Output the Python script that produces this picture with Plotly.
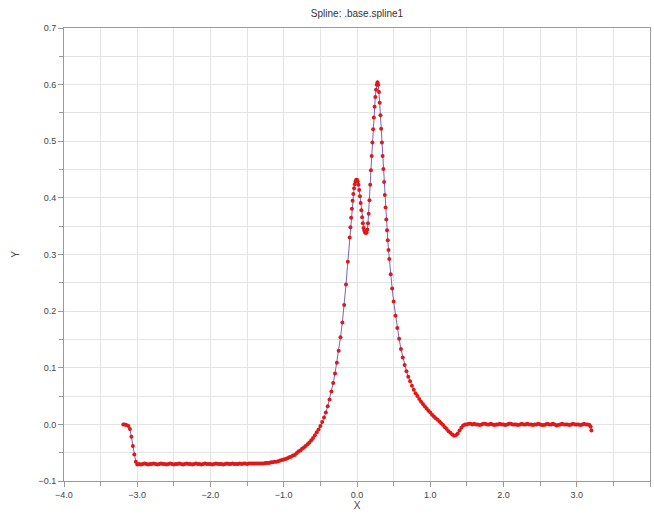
import plotly.graph_objects as go

# Spline samples, split into segments along X
x_start = [-3.19, -3.17, -3.15, -3.12, -3.10, -3.08, -3.06, -3.04, -3.02, -3.00]
y_start = [0.000, 0.000, -0.001, -0.003, -0.008, -0.022, -0.038, -0.053, -0.066, -0.071]

x_base_left = [
    -2.975, -2.950, -2.925, -2.900, -2.875, -2.850, -2.825, -2.800, -2.775, -2.750,
    -2.725, -2.700, -2.675, -2.650, -2.625, -2.600, -2.575, -2.550, -2.525, -2.500,
    -2.475, -2.450, -2.425, -2.400, -2.375, -2.350, -2.325, -2.300, -2.275, -2.250,
    -2.225, -2.200, -2.175, -2.150, -2.125, -2.100, -2.075, -2.050, -2.025, -2.000,
    -1.975, -1.950, -1.925, -1.900, -1.875, -1.850, -1.825, -1.800, -1.775, -1.750,
    -1.725, -1.700, -1.675, -1.650, -1.625, -1.600, -1.575, -1.550, -1.525, -1.500,
    -1.475, -1.450, -1.425, -1.400, -1.375, -1.350, -1.325]
y_base_left = [
    -0.070, -0.071, -0.070, -0.069, -0.070, -0.071, -0.070, -0.070, -0.069, -0.070,
    -0.071, -0.070, -0.069, -0.070, -0.070, -0.071, -0.070, -0.069, -0.070, -0.071,
    -0.070, -0.070, -0.069, -0.070, -0.071, -0.070, -0.069, -0.070, -0.070, -0.071,
    -0.070, -0.069, -0.070, -0.070, -0.071, -0.070, -0.069, -0.070, -0.070, -0.070,
    -0.071, -0.070, -0.069, -0.070, -0.070, -0.070, -0.071, -0.070, -0.069, -0.070,
    -0.070, -0.069, -0.070, -0.070, -0.070, -0.069, -0.070, -0.069, -0.069, -0.070,
    -0.069, -0.069, -0.069, -0.069, -0.069, -0.069, -0.069]

x_rise = [
    -1.300, -1.275, -1.250, -1.225, -1.200, -1.175, -1.150, -1.125, -1.100, -1.075,
    -1.050, -1.025, -1.000, -0.975, -0.950, -0.925, -0.900, -0.875, -0.850, -0.825,
    -0.800, -0.775, -0.750, -0.725, -0.700, -0.675, -0.650, -0.625, -0.600, -0.575,
    -0.550, -0.525, -0.500, -0.475, -0.450, -0.425, -0.400, -0.375, -0.350, -0.325,
    -0.300, -0.275, -0.250, -0.225, -0.200, -0.175, -0.150, -0.125]
y_rise = [
    -0.069, -0.069, -0.068, -0.068, -0.068, -0.067, -0.067, -0.066, -0.066, -0.065,
    -0.064, -0.063, -0.062, -0.061, -0.060, -0.058, -0.057, -0.055, -0.054, -0.051,
    -0.048, -0.046, -0.043, -0.041, -0.038, -0.035, -0.032, -0.028, -0.024, -0.019,
    -0.014, -0.009, -0.003, 0.004, 0.012, 0.021, 0.032, 0.044, 0.058, 0.073,
    0.090, 0.109, 0.130, 0.154, 0.180, 0.211, 0.247, 0.287]

x_peaks = [
    -0.10, -0.09, -0.08, -0.07, -0.06, -0.05, -0.04, -0.03, -0.02, -0.01,
    0.00, 0.01, 0.02, 0.03, 0.04, 0.05, 0.06, 0.07, 0.08, 0.09,
    0.10, 0.11, 0.12, 0.13, 0.14, 0.15, 0.16, 0.17, 0.18, 0.19,
    0.20, 0.21, 0.22, 0.23, 0.24, 0.25, 0.26, 0.27, 0.28, 0.29,
    0.30, 0.31, 0.32, 0.33, 0.34, 0.35, 0.36, 0.37, 0.38, 0.39,
    0.40, 0.41, 0.42, 0.43, 0.44]
y_peaks = [
    0.330, 0.348, 0.365, 0.381, 0.395, 0.407, 0.417, 0.424, 0.429, 0.432,
    0.432, 0.429, 0.423, 0.414, 0.403, 0.391, 0.378, 0.366, 0.355, 0.347,
    0.342, 0.339, 0.338, 0.339, 0.344, 0.355, 0.372, 0.396, 0.423, 0.449,
    0.474, 0.498, 0.521, 0.542, 0.561, 0.578, 0.591, 0.600, 0.604, 0.600,
    0.587, 0.568, 0.546, 0.522, 0.498, 0.474, 0.451, 0.428, 0.405, 0.383,
    0.362, 0.343, 0.325, 0.308, 0.292]

x_fall = [
    0.460, 0.480, 0.500, 0.525, 0.550, 0.575, 0.600, 0.625, 0.650, 0.675,
    0.700, 0.725, 0.750, 0.775, 0.800, 0.825, 0.850, 0.875, 0.900, 0.925,
    0.950, 0.975, 1.000, 1.025, 1.050, 1.075, 1.100, 1.125, 1.150, 1.175,
    1.200, 1.225, 1.250, 1.275, 1.300, 1.325, 1.350, 1.375, 1.400, 1.425,
    1.450, 1.475]
y_fall = [
    0.265, 0.240, 0.217, 0.192, 0.170, 0.151, 0.133, 0.118, 0.105, 0.094,
    0.084, 0.076, 0.068, 0.061, 0.055, 0.050, 0.045, 0.040, 0.036, 0.032,
    0.028, 0.024, 0.021, 0.017, 0.014, 0.011, 0.008, 0.005, 0.002, -0.001,
    -0.005, -0.008, -0.012, -0.015, -0.018, -0.020, -0.019, -0.016, -0.011, -0.006,
    -0.002, 0.000]

x_base_right = [
    1.500, 1.525, 1.550, 1.575, 1.600, 1.625, 1.650, 1.675, 1.700, 1.725,
    1.750, 1.775, 1.800, 1.825, 1.850, 1.875, 1.900, 1.925, 1.950, 1.975,
    2.000, 2.025, 2.050, 2.075, 2.100, 2.125, 2.150, 2.175, 2.200, 2.225,
    2.250, 2.275, 2.300, 2.325, 2.350, 2.375, 2.400, 2.425, 2.450, 2.475,
    2.500, 2.525, 2.550, 2.575, 2.600, 2.625, 2.650, 2.675, 2.700, 2.725,
    2.750, 2.775, 2.800, 2.825, 2.850, 2.875, 2.900, 2.925, 2.950, 2.975,
    3.000, 3.025, 3.050, 3.075, 3.100, 3.125, 3.150, 3.175, 3.190, 3.200]
y_base_right = [
    0.000, 0.001, 0.001, 0.000, 0.001, 0.000, 0.000, -0.001, 0.000, 0.001,
    0.001, 0.000, 0.000, 0.001, 0.000, -0.001, 0.000, 0.000, 0.001, 0.000,
    0.000, -0.001, 0.000, 0.001, 0.001, 0.000, 0.000, 0.000, -0.001, 0.000,
    0.001, 0.000, 0.000, 0.001, 0.000, 0.000, -0.001, 0.000, 0.000, 0.001,
    0.000, -0.001, -0.001, 0.000, 0.001, 0.000, 0.000, 0.001, 0.000, -0.002,
    -0.001, 0.000, 0.001, 0.000, 0.000, 0.000, -0.001, 0.000, 0.001, 0.000,
    0.000, 0.000, -0.001, 0.000, 0.001, 0.000, 0.000, -0.001, -0.004, -0.011]

x_all = x_start + x_base_left + x_rise + x_peaks + x_fall + x_base_right
y_all = y_start + y_base_left + y_rise + y_peaks + y_fall + y_base_right
assert len(x_all) == len(y_all)

title_text = "Spline: .base.spline1"

grid_col = "#e4e4e4"
axis_col = "#9a9a9a"
font_col = "#444444"
font_family = "Liberation Sans, Arial, sans-serif"

fig = go.Figure()
fig.add_trace(go.Scatter(
    x=x_all, y=y_all, mode="lines+markers",
    line=dict(color="#7b62c4", width=1),
    marker=dict(color="#e01818", size=4, line=dict(width=0)),
    showlegend=False,
))

axis_common = dict(
    showline=True, linecolor=axis_col, linewidth=1, mirror=True,
    showgrid=True, gridcolor=grid_col, gridwidth=1,
    ticks="outside", ticklen=5, tickcolor=axis_col,
    zeroline=False, tickformat=".1f",
    tickfont=dict(family=font_family, size=9, color=font_col),
    title_font=dict(family=font_family, size=10, color=font_col),
)

fig.update_xaxes(
    range=[-4, 4], dtick=1, tick0=0,
    minor=dict(dtick=0.5, showgrid=True, gridcolor=grid_col, ticks="outside",
               ticklen=4, tickcolor=axis_col),
    title=dict(text="X", standoff=2),
    **axis_common,
)
fig.update_yaxes(
    range=[-0.1, 0.7], dtick=0.1, tick0=0,
    minor=dict(dtick=0.05, showgrid=True, gridcolor=grid_col, ticks="outside",
               ticklen=4, tickcolor=axis_col),
    title=dict(text="Y", standoff=16),
    **axis_common,
)

fig.update_layout(
    width=654, height=514,
    margin=dict(l=64, r=4, t=28, b=33),
    paper_bgcolor="white", plot_bgcolor="white",
    title=dict(text=title_text, x=0.5, xref="paper", y=1 - 13 / 514,
               yref="container", yanchor="middle", xanchor="center",
               font=dict(family=font_family, size=10, color="#333333")),
)

fig.write_html("out.html")
